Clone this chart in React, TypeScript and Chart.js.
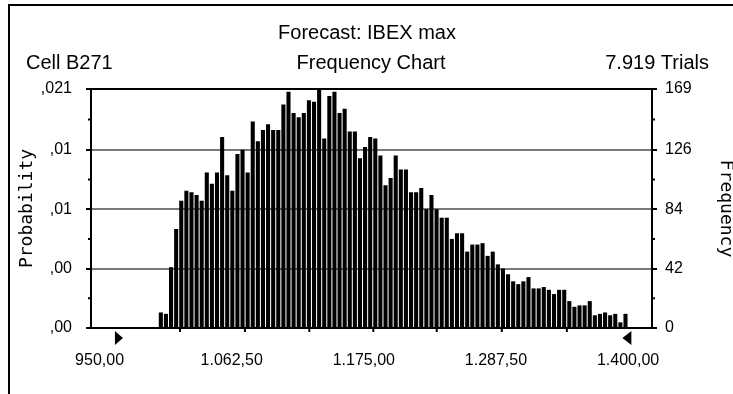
import React, { useEffect, useRef } from 'react';
import { Chart, registerables } from 'chart.js';

Chart.register(...registerables);

// ---- data ----
const frequencies = [
  11, 10, 43, 70, 90, 97, 96, 94, 90, 110, 102, 110, 135, 108, 97, 123, 126, 110, 146, 132, 140, 144,
  140, 140, 158, 167, 152, 149, 152, 161, 160, 169, 134, 164, 167, 152, 155, 139, 139, 120, 128, 135, 134, 122,
  101, 106, 122, 112, 112, 96, 96, 99, 84, 94, 84, 78, 78, 63, 67, 67, 54, 59, 59, 60, 51, 54, 45,
  42, 38, 33, 31, 33, 36, 28, 28, 29, 27, 24, 27, 27, 19, 15, 16, 16, 19, 9, 10, 11, 9, 10, 4, 10,
];
const binStart = 1000;
const binEnd = 1400;
const xMin = 942.7;
const xMax = 1420.4;
const xTickValues = [950, 1062.5, 1175, 1287.5, 1400];
const xTickLabels = ['950,00', '1.062,50', '1.175,00', '1.287,50', '1.400,00'];
const xMinorTickValues = [1018.5, 1073.8, 1128.6, 1183.1, 1237.1, 1292.5, 1347.9];
const yMax = 169;
const yTickValues = [0, 42, 84, 126, 169];
const probabilityLabels = [',00', ',00', ',01', ',01', ',021'];
const frequencyLabels = ['0', '42', '84', '126', '169'];
const yMinorTickValues = [21, 63, 105, 147.5];
// certainty range grabbers (apex values): left points right, right points left
const lowerGrabber = 969.9;
const upperGrabber = 1395.2;

const titleText = 'Forecast: IBEX max';
const cellText = 'Cell B271';
const chartKindText = 'Frequency Chart';
const trialsText = '7.919 Trials';
const leftAxisTitle = 'Probability';
const rightAxisTitle = 'Frequency';

const SANS = '"Liberation Sans", Arial, sans-serif';
const MONO = '"DejaVu Sans Mono", monospace';

const binWidth = (binEnd - binStart) / frequencies.length;
const barPoints = frequencies.map((f, i) => ({ x: binStart + (i + 0.5) * binWidth, y: f }));

const decorations = {
  id: 'decorations',
  beforeDraw(chart: any) {
    const { ctx, width, height } = chart;
    ctx.save();
    ctx.fillStyle = '#fff';
    ctx.fillRect(0, 0, width, height);
    ctx.strokeStyle = '#000';
    ctx.lineWidth = 2;
    ctx.beginPath();
    ctx.moveTo(9, height);
    ctx.lineTo(9, 5);
    ctx.lineTo(width, 5);
    ctx.stroke();
    ctx.restore();
  },
  afterDatasetsDraw(chart: any) {
    const { ctx, chartArea } = chart;
    ctx.save();
    ctx.strokeStyle = '#000';
    ctx.lineWidth = 2;
    ctx.strokeRect(chartArea.left, chartArea.top, chartArea.right - chartArea.left, chartArea.bottom - chartArea.top);
    ctx.restore();
  },
  afterDraw(chart: any) {
    const { ctx, chartArea, scales } = chart;
    ctx.save();
    ctx.fillStyle = '#000';
    ctx.strokeStyle = '#000';
    ctx.lineWidth = 2;
    // minor ticks
    yMinorTickValues.forEach((v) => {
      const py = scales.y.getPixelForValue(v);
      ctx.beginPath();
      ctx.moveTo(chartArea.left - 3, py);
      ctx.lineTo(chartArea.left, py);
      ctx.moveTo(chartArea.right, py);
      ctx.lineTo(chartArea.right + 3, py);
      ctx.stroke();
    });
    xMinorTickValues.forEach((v) => {
      const px = scales.x.getPixelForValue(v);
      ctx.beginPath();
      ctx.moveTo(px, chartArea.bottom);
      ctx.lineTo(px, chartArea.bottom + 4);
      ctx.stroke();
    });
    // grabbers
    const gy = chartArea.bottom + 3;
    const lx = scales.x.getPixelForValue(lowerGrabber);
    ctx.beginPath();
    ctx.moveTo(lx - 8, gy);
    ctx.lineTo(lx, gy + 7);
    ctx.lineTo(lx - 8, gy + 14);
    ctx.closePath();
    ctx.fill();
    const ux = scales.x.getPixelForValue(upperGrabber);
    ctx.beginPath();
    ctx.moveTo(ux + 9, gy);
    ctx.lineTo(ux, gy + 7);
    ctx.lineTo(ux + 9, gy + 14);
    ctx.closePath();
    ctx.fill();
    // header
    ctx.font = `20px ${SANS}`;
    ctx.textBaseline = 'alphabetic';
    ctx.textAlign = 'center';
    ctx.fillText(titleText, 367, 39);
    ctx.fillText(chartKindText, 371, 69);
    ctx.textAlign = 'left';
    ctx.fillText(cellText, 26, 69);
    ctx.textAlign = 'right';
    ctx.fillText(trialsText, 709, 69);
    // axis titles
    const midY = (chartArea.top + chartArea.bottom) / 2;
    ctx.font = `18px ${MONO}`;
    ctx.textAlign = 'center';
    ctx.textBaseline = 'middle';
    ctx.save();
    ctx.translate(27, midY);
    ctx.rotate(-Math.PI / 2);
    ctx.fillText(leftAxisTitle, 0, 0);
    ctx.restore();
    ctx.save();
    ctx.translate(726, midY);
    ctx.rotate(Math.PI / 2);
    ctx.fillText(rightAxisTitle, 0, 0);
    ctx.restore();
    ctx.restore();
  },
};

export default function App() {
  const ref = useRef<HTMLCanvasElement | null>(null);
  useEffect(() => {
    if (!ref.current) return;
    const chart = new Chart(ref.current, {
      type: 'bar',
      data: {
        datasets: [
          {
            type: 'bar',
            data: barPoints as any,
            backgroundColor: '#000',
            borderWidth: 0,
            barPercentage: 0.8,
            categoryPercentage: 1,
            xAxisID: 'x',
            yAxisID: 'y',
          } as any,
        ],
      },
      options: {
        responsive: false,
        maintainAspectRatio: false,
        devicePixelRatio: 1,
        animation: false,
        events: [],
        layout: { padding: { top: 89, left: 0, right: 0, bottom: 0 } },
        plugins: { legend: { display: false }, tooltip: { enabled: false }, title: { display: false } },
        scales: {
          x: {
            type: 'linear',
            offset: false,
            min: xMin,
            max: xMax,
            afterBuildTicks: (s: any) => {
              s.ticks = xTickValues.map((v) => ({ value: v }));
            },
            afterFit: (s: any) => {
              s.height = 66;
            },
            ticks: {
              autoSkip: false,
              maxRotation: 0,
              padding: 23,
              color: '#000',
              font: { family: SANS, size: 16 },
              callback: (_v: any, i: number) => xTickLabels[i],
            },
            grid: { display: false, drawTicks: false, offset: false },
            border: { display: false },
          },
          y: {
            position: 'left',
            min: 0,
            max: yMax,
            afterBuildTicks: (s: any) => {
              s.ticks = yTickValues.map((v) => ({ value: v }));
            },
            afterFit: (s: any) => {
              s.width = 91;
            },
            ticks: {
              padding: 14,
              color: '#000',
              font: { family: SANS, size: 16 },
              callback: (_v: any, i: number) => probabilityLabels[i],
            },
            grid: {
              color: (c: any) => (c.tick && (c.tick.value === 0 || c.tick.value === yMax) ? 'rgba(0,0,0,0)' : '#7a7a7a'),
              lineWidth: 2,
              tickColor: '#000',
              tickLength: 5,
              drawTicks: true,
            },
            border: { display: false },
          },
          y2: {
            position: 'right',
            min: 0,
            max: yMax,
            afterBuildTicks: (s: any) => {
              s.ticks = yTickValues.map((v) => ({ value: v }));
            },
            afterFit: (s: any) => {
              s.width = 81;
            },
            ticks: {
              padding: 8,
              color: '#000',
              font: { family: SANS, size: 16 },
              callback: (_v: any, i: number) => frequencyLabels[i],
            },
            grid: { drawOnChartArea: false, tickColor: '#000', tickLength: 5, lineWidth: 2 },
            border: { display: false },
          },
        },
      } as any,
      plugins: [decorations],
    });
    return () => chart.destroy();
  }, []);
  return (
    <div style={{ position: 'fixed', left: 0, top: 0, width: 733, height: 394, background: '#fff' }}>
      <canvas ref={ref} width={733} height={394} style={{ width: 733, height: 394, display: 'block' }} />
    </div>
  );
}
